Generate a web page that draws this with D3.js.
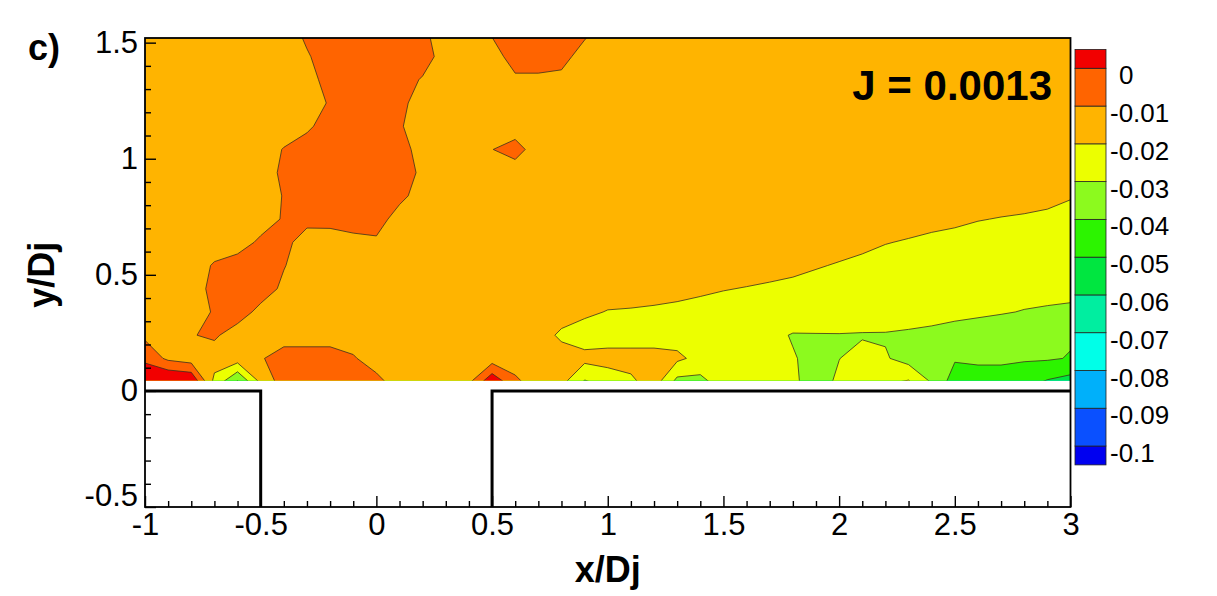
<!DOCTYPE html>
<html>
<head>
<meta charset="utf-8">
<script src="https://cdn.jsdelivr.net/npm/d3@7"></script>
<style>
  body { margin: 0; background: #fff; }
  text { font-family: "Liberation Sans", Arial, sans-serif; fill: #000; }
</style>
</head>
<body>
<svg id="chart" width="1217" height="596"></svg>
<script>
// legend levels (top to bottom)
const levels = [0, -0.01, -0.02, -0.03, -0.04, -0.05, -0.06, -0.07, -0.08, -0.09, -0.1];
// band colours, lowest band (< -0.1) first, highest band (> 0) last
const bandColors = ["#0000f0", "#0a50ff", "#00b0fa", "#00ffe8", "#00eea0", "#00e640",
                    "#2cf400", "#8cfa1e", "#ecff00", "#ffb400", "#ff6400", "#f20000"];
const xTicks = [-1, -0.5, 0, 0.5, 1, 1.5, 2, 2.5, 3];
const xMinor = [-0.9, -0.8, -0.7, -0.6, -0.4, -0.3, -0.2, -0.1, 0.1, 0.2, 0.3, 0.4, 0.6, 0.7, 0.8, 0.9,
                1.1, 1.2, 1.3, 1.4, 1.6, 1.7, 1.8, 1.9, 2.1, 2.2, 2.3, 2.4, 2.6, 2.7, 2.8, 2.9];
const yTicks = [-0.5, 0, 0.5, 1, 1.5];
const yMinor = [-0.4, -0.3, -0.2, -0.1, 0.1, 0.2, 0.3, 0.4, 0.6, 0.7, 0.8, 0.9, 1.1, 1.2, 1.3, 1.4];

// measurement grid, x/Dj and y/Dj of the nodes
const xNodes = [-1, -0.9, -0.8, -0.7, -0.6, -0.5, -0.4, -0.3, -0.2, -0.1, 0, 0.1, 0.2, 0.3, 0.4, 0.5, 0.6, 0.7,
                0.8, 0.9, 1, 1.1, 1.2, 1.3, 1.4, 1.5, 1.6, 1.7, 1.8, 1.9, 2, 2.1, 2.2, 2.3, 2.4, 2.5, 2.6, 2.7,
                2.8, 2.9, 3];
const yNodes = [0.04, 0.14, 0.24, 0.34, 0.44, 0.54, 0.64, 0.74, 0.84, 0.94, 1.04, 1.14, 1.24, 1.34, 1.44, 1.54];

// field values, one row per yNode (bottom row first)
const field = [
  [.012,.012,.01,-.023,-.041,-.018,-.005,-.005,-.005,-.005,-.007,-.015,-.015,-.015,-.012,.008,-.008,-.015,-.017,-.031,-.026,-.022,-.015,-.033,-.033,-.025,-.025,-.026,-.028,-.035,-.028,-.025,-.022,-.019,-.031,-.045,-.045,-.045,-.046,-.051,-.054],
  [-.003,-.012,-.015,-.015,-.015,-.011,-.005,-.005,-.005,-.009,-.015,-.015,-.015,-.015,-.015,-.015,-.015,-.015,-.015,-.017,-.016,-.016,-.016,-.018,-.023,-.025,-.025,-.026,-.0295,-.032,-.0302,-.026,-.029,-.034,-.035,-.039,-.038,-.038,-.039,-.039,-.0405],
  [-.012,-.015,-.0105,-.0085,-.015,-.015,-.015,-.015,-.015,-.015,-.015,-.015,-.015,-.015,-.015,-.015,-.015,-.015,-.022,-.025,-.025,-.025,-.025,-.024,-.025,-.025,-.025,-.028,-.0305,-.0305,-.0305,-.031,-.031,-.033,-.034,-.035,-.036,-.037,-.038,-.038,-.039],
  [-.015,-.015,-.015,-.009,-.005,-.013,-.015,-.015,-.015,-.015,-.015,-.015,-.015,-.015,-.015,-.015,-.015,-.015,-.015,-.018,-.0205,-.021,-.022,-.024,-.025,-.025,-.025,-.025,-.025,-.024,-.023,-.022,-.023,-.021,-.024,-.0267,-.028,-.0292,-.0305,-.0315,-.032],
  [-.015,-.015,-.015,-.007,-.005,-.005,-.012,-.015,-.015,-.015,-.015,-.015,-.015,-.015,-.015,-.015,-.015,-.015,-.015,-.015,-.015,-.015,-.015,-.015,-.0175,-.0195,-.0205,-.022,-.024,-.025,-.025,-.025,-.025,-.025,-.025,-.025,-.025,-.025,-.026,-.026,-.027],
  [-.015,-.015,-.015,-.009,-.005,-.005,-.0095,-.015,-.015,-.015,-.015,-.015,-.015,-.015,-.015,-.015,-.015,-.015,-.015,-.015,-.015,-.015,-.015,-.015,-.015,-.015,-.015,-.015,-.016,-.019,-.021,-.024,-.025,-.025,-.025,-.025,-.025,-.025,-.025,-.025,-.025],
  [-.015,-.015,-.015,-.015,-.015,-.008,-.005,-.018,-.0175,-.0133,-.0119,-.015,-.015,-.015,-.015,-.015,-.015,-.015,-.015,-.015,-.015,-.015,-.015,-.015,-.015,-.015,-.015,-.015,-.015,-.015,-.015,-.016,-.0195,-.021,-.023,-.025,-.025,-.025,-.025,-.025,-.025],
  [-.015,-.015,-.015,-.015,-.015,-.015,-.009,-.005,-.005,-.005,-.005,-.015,-.015,-.015,-.015,-.015,-.015,-.015,-.015,-.015,-.015,-.015,-.015,-.015,-.015,-.015,-.015,-.015,-.015,-.015,-.015,-.015,-.015,-.015,-.016,-.017,-.0195,-.0205,-.0215,-.023,-.025],
  [-.015,-.015,-.015,-.015,-.015,-.015,-.0095,-.005,-.005,-.005,-.005,-.007,-.015,-.015,-.015,-.015,-.015,-.015,-.015,-.015,-.015,-.015,-.015,-.015,-.015,-.015,-.015,-.015,-.015,-.015,-.015,-.015,-.015,-.015,-.015,-.015,-.015,-.015,-.015,-.016,-.019],
  [-.015,-.015,-.015,-.015,-.015,-.015,-.008,-.005,-.005,-.005,-.005,-.005,-.012,-.015,-.015,-.015,-.015,-.015,-.015,-.015,-.015,-.015,-.015,-.015,-.015,-.015,-.015,-.015,-.015,-.015,-.015,-.015,-.015,-.015,-.015,-.015,-.015,-.015,-.015,-.015,-.015],
  [-.015,-.015,-.015,-.015,-.015,-.015,-.0095,-.005,-.005,-.005,-.005,-.005,-.015,-.015,-.015,-.0102,-.0062,-.015,-.015,-.015,-.015,-.015,-.015,-.015,-.015,-.015,-.015,-.015,-.015,-.015,-.015,-.015,-.015,-.015,-.015,-.015,-.015,-.015,-.015,-.015,-.015],
  [-.015,-.015,-.015,-.015,-.015,-.015,-.015,-.012,-.005,-.005,-.005,-.009,-.015,-.015,-.015,-.015,-.015,-.015,-.015,-.015,-.015,-.015,-.015,-.015,-.015,-.015,-.015,-.015,-.015,-.015,-.015,-.015,-.015,-.015,-.015,-.015,-.015,-.015,-.015,-.015,-.015],
  [-.015,-.015,-.015,-.015,-.015,-.015,-.015,-.015,-.009,-.005,-.005,-.007,-.015,-.015,-.015,-.015,-.015,-.015,-.015,-.015,-.015,-.015,-.015,-.015,-.015,-.015,-.015,-.015,-.015,-.015,-.015,-.015,-.015,-.015,-.015,-.015,-.015,-.015,-.015,-.015,-.015],
  [-.015,-.015,-.015,-.015,-.015,-.015,-.015,-.015,-.005,-.005,-.005,-.005,-.011,-.015,-.015,-.015,-.012,-.012,-.013,-.015,-.015,-.015,-.015,-.015,-.015,-.015,-.015,-.015,-.015,-.015,-.015,-.015,-.015,-.015,-.015,-.015,-.015,-.015,-.015,-.015,-.015],
  [-.015,-.015,-.015,-.015,-.015,-.015,-.015,-.011,-.005,-.005,-.005,-.005,-.005,-.015,-.015,-.015,-.005,-.005,-.006,-.015,-.015,-.015,-.015,-.015,-.015,-.015,-.015,-.015,-.015,-.015,-.015,-.015,-.015,-.015,-.015,-.015,-.015,-.015,-.015,-.015,-.015],
  [-.015,-.015,-.015,-.015,-.015,-.015,-.015,-.008,-.005,-.005,-.005,-.005,-.008,-.015,-.015,-.009,-.005,-.005,-.005,-.008,-.015,-.015,-.015,-.015,-.015,-.015,-.015,-.015,-.015,-.015,-.015,-.015,-.015,-.015,-.015,-.015,-.015,-.015,-.015,-.015,-.015]
];

// jet exit walls (x/Dj, y/Dj)
const plateLeft = [[-1, 0], [-0.5, 0], [-0.5, -0.5]];
const plateRight = [[0.5, -0.5], [0.5, 0], [3, 0]];
const contourBottom = 0.045;
const jValue = "J = 0.0013";

const svg = d3.select("#chart");
svg.append("rect").attr("width", 1217).attr("height", 596).attr("fill", "#fff");

const x = d3.scaleLinear().domain([-1, 3]).range([145, 1070.5]);
const y = d3.scaleLinear().domain([-0.5, 1.52]).range([507, 38]);

// grid coordinates of d3.contours -> data coordinates
const nx = xNodes.length, ny = yNodes.length;
const gx = d3.scaleLinear().domain([0.5, nx - 0.5]).range([xNodes[0], xNodes[nx - 1]]);
const gy = d3.scaleLinear().domain([0.5, ny - 0.5]).range([yNodes[0], yNodes[ny - 1]]);
const proj = d3.geoTransform({
    point(px, py) { this.stream.point(x(gx(px)), y(gy(py))); }
});
const path = d3.geoPath(proj);

const thresholds = levels.slice().reverse();
const contours = d3.contours()
    .size([nx, ny])
    .thresholds(thresholds)(field.flat());

svg.append("clipPath").attr("id", "plotClip")
  .append("rect")
    .attr("x", x(-1)).attr("y", y(1.52))
    .attr("width", x(3) - x(-1))
    .attr("height", y(contourBottom) - y(1.52));

const cg = svg.append("g").attr("clip-path", "url(#plotClip)");
cg.append("rect")
    .attr("x", x(-1)).attr("y", y(1.52))
    .attr("width", x(3) - x(-1)).attr("height", y(contourBottom) - y(1.52))
    .attr("fill", bandColors[0]);
cg.selectAll("path.band")
  .data(contours)
  .join("path")
    .attr("class", "band")
    .attr("d", path)
    .attr("fill", (d, i) => bandColors[i + 1])
    .attr("stroke", "#3b3020")
    .attr("stroke-width", 0.8)
    .attr("stroke-linejoin", "round");

// jet exit walls
const wallLine = d3.line().x(d => x(d[0])).y(d => y(d[1]));
[plateLeft, plateRight].forEach(p => {
    svg.append("path")
        .attr("d", wallLine(p))
        .attr("fill", "none")
        .attr("stroke", "#000")
        .attr("stroke-width", 3);
});

// axes with inward ticks
const fmt = d => String(d);
function styleAxis(g) {
    g.select(".domain").remove();
    g.selectAll(".tick line").attr("stroke", "#000").attr("stroke-width", 1.4);
    g.selectAll(".tick text").style("font-size", "31px").attr("fill", "#000");
}
svg.append("g").attr("transform", `translate(${x(-1)},0)`)
    .call(d3.axisLeft(y).tickValues(yMinor).tickSize(-6).tickFormat(""))
    .call(styleAxis);
svg.append("g").attr("transform", `translate(${x(-1)},0)`)
    .call(d3.axisLeft(y).tickValues(yTicks).tickSize(-11).tickPadding(7).tickFormat(fmt))
    .call(styleAxis)
    .selectAll(".tick text")
    .attr("dy", d => d === -0.5 ? "-0.05em" : "0.32em");
svg.append("g").attr("transform", `translate(0,${y(-0.5)})`)
    .call(d3.axisBottom(x).tickValues(xMinor).tickSize(-6).tickFormat(""))
    .call(styleAxis);
svg.append("g").attr("transform", `translate(0,${y(-0.5)})`)
    .call(d3.axisBottom(x).tickValues(xTicks).tickSize(-11).tickPadding(6).tickFormat(fmt))
    .call(styleAxis);

// frame
svg.append("rect")
    .attr("x", x(-1)).attr("y", y(1.52))
    .attr("width", x(3) - x(-1)).attr("height", y(-0.5) - y(1.52))
    .attr("fill", "none").attr("stroke", "#000").attr("stroke-width", 1.8);

// axis titles
svg.append("text")
    .attr("x", (x(-1) + x(3)) / 2).attr("y", 582)
    .attr("text-anchor", "middle")
    .style("font-size", "36px").style("font-weight", "bold")
    .text("x/Dj");
svg.append("text")
    .attr("transform", `translate(54,${(y(-0.5) + y(1.5)) / 2}) rotate(-90)`)
    .attr("text-anchor", "middle")
    .style("font-size", "36px").style("font-weight", "bold")
    .text("y/Dj");
svg.append("text")
    .attr("x", 28).attr("y", 60)
    .style("font-size", "36px").style("font-weight", "bold")
    .text("c)");
svg.append("text")
    .attr("x", 1052).attr("y", 100)
    .attr("text-anchor", "end")
    .style("font-size", "42px").style("font-weight", "bold")
    .text(jValue);

// colour legend
const cb = d3.scaleLinear().domain([0.005, -0.105]).range([49.4, 464.9]);
const cbX = 1075, cbW = 31;
const bandEdges = [-0.105].concat(thresholds, [0.005]);
const legend = svg.append("g");
legend.selectAll("rect")
  .data(bandColors)
  .join("rect")
    .attr("x", cbX)
    .attr("y", (d, i) => cb(bandEdges[i + 1]))
    .attr("width", cbW)
    .attr("height", (d, i) => cb(bandEdges[i]) - cb(bandEdges[i + 1]))
    .attr("fill", d => d)
    .attr("stroke", "#222")
    .attr("stroke-width", 0.8);
legend.selectAll("text")
  .data(levels)
  .join("text")
    .attr("x", d => d === 0 ? cbX + cbW + 13 : cbX + cbW + 4)
    .attr("y", d => cb(d) + 7)
    .attr("dy", "0.35em")
    .style("font-size", "26px")
    .text(fmt);
</script>
</body>
</html>
